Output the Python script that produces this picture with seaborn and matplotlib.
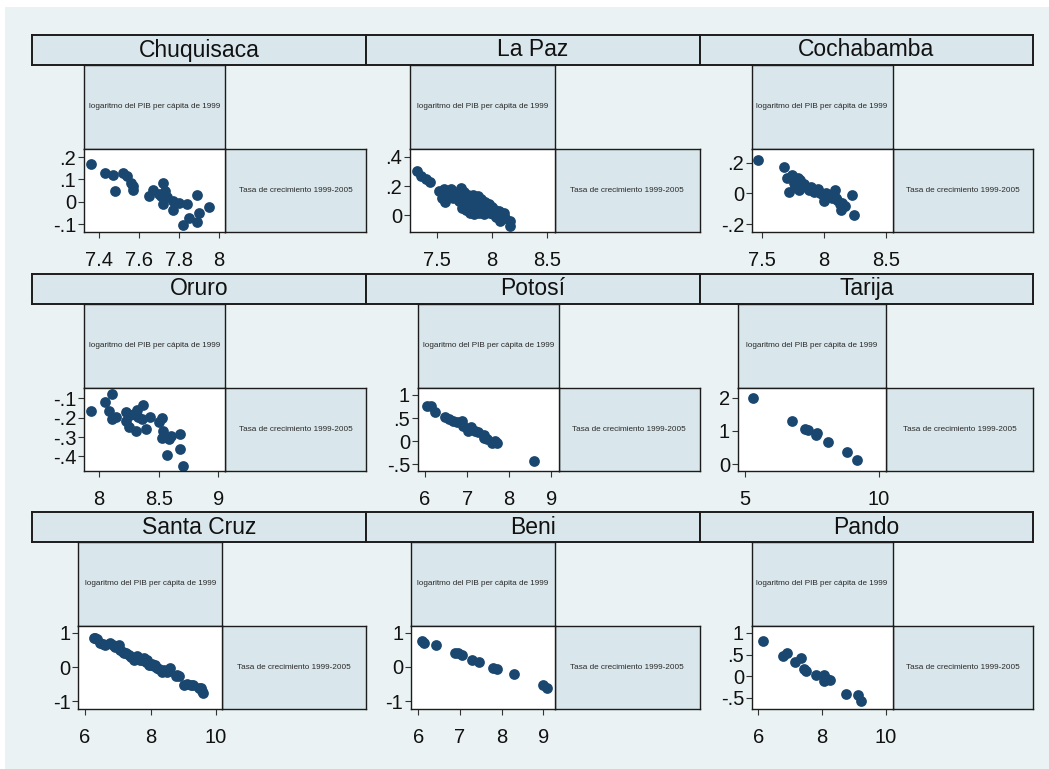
import numpy as np
import pandas as pd
import matplotlib
matplotlib.use("Agg")
import matplotlib.pyplot as plt
from matplotlib.patches import Rectangle
import seaborn as sns

sns.set_theme(style="ticks")
plt.rcParams['font.family'] = ['Liberation Sans', 'DejaVu Sans']

# ---------------------------------------------------------------- data
departamentos = ["Chuquisaca", "La Paz", "Cochabamba",
                 "Oruro", "Potosí", "Tarija",
                 "Santa Cruz", "Beni", "Pando"]

etiqueta_x = "logaritmo del PIB per cápita de 1999"
etiqueta_y = "Tasa de crecimiento 1999-2005"

chuquisaca_lpib = [7.36, 7.43, 7.47, 7.48, 7.52, 7.54, 7.56, 7.57, 7.57, 7.65, 7.67, 7.70, 7.71,
                   7.72, 7.72, 7.73, 7.74, 7.77, 7.77, 7.80, 7.84, 7.82, 7.85, 7.89, 7.89, 7.90, 7.95]
chuquisaca_tasa = [0.17, 0.13, 0.12, 0.05, 0.13, 0.115, 0.085, 0.07, 0.053, 0.025, 0.053, 0.033, 0.025,
                   0.083, -0.009, 0.05, 0.02, 0.003, -0.035, -0.005, -0.008, -0.105, -0.072, 0.03, -0.092, -0.05, -0.023]

lapaz_lpib = [7.32, 7.36, 7.40, 7.44, 7.52, 7.55, 7.57, 7.58, 7.60, 7.62, 7.63, 7.65, 7.66, 7.68,
              7.70, 7.71, 7.72, 7.73, 7.73, 7.74, 7.75, 7.76, 7.77, 7.78, 7.79, 7.80, 7.81, 7.82,
              7.83, 7.84, 7.85, 7.86, 7.87, 7.88, 7.89, 7.90, 7.91, 7.93, 7.94, 7.95, 7.97, 7.98,
              8.00, 8.01, 8.03, 8.04, 8.06, 8.07, 8.09, 8.11, 8.12, 8.16, 8.16]
lapaz_tasa = [0.30, 0.27, 0.25, 0.23, 0.17, 0.12, 0.18, 0.09, 0.16, 0.14, 0.18, 0.12, 0.16, 0.14,
              0.10, 0.15, 0.19, 0.05, 0.13, 0.08, 0.16, 0.11, 0.04, 0.14, 0.09, 0.02, 0.12, 0.06,
              0.14, 0.01, 0.10, 0.04, 0.13, 0.02, 0.08, 0.11, 0.05, 0.01, 0.09, 0.05, 0.08, 0.02,
              0.06, 0.01, 0.04, -0.01, 0.03, -0.04, 0.01, 0.02, -0.02, -0.04, -0.07]

cochabamba_lpib = [7.47, 7.68, 7.70, 7.72, 7.74, 7.76, 7.77, 7.79, 7.80, 7.81, 7.82, 7.84, 7.86, 7.88,
                   7.90, 7.92, 7.93, 7.95, 7.97, 7.99, 8.00, 8.02, 8.03, 8.05, 8.07, 8.09, 8.10, 8.11,
                   8.13, 8.14, 8.15, 8.17, 8.23, 8.24]
cochabamba_tasa = [0.22, 0.17, 0.10, 0.01, 0.12, 0.07, 0.04, 0.10, 0.02, 0.09, 0.05, 0.06, 0.04, 0.02,
                   0.04, 0.01, 0.02, 0.03, 0.00, -0.01, -0.05, 0.00, -0.02, -0.01, -0.03, 0.02, -0.03, -0.04,
                   -0.07, -0.11, -0.06, -0.08, -0.01, -0.14]

oruro_lpib = [7.93, 8.05, 8.11, 8.08, 8.11, 8.14, 8.23, 8.23, 8.26, 8.25, 8.29, 8.31, 8.33, 8.32,
              8.37, 8.39, 8.36, 8.43, 8.53, 8.50, 8.54, 8.53, 8.59, 8.57, 8.60, 8.68, 8.68, 8.70]
oruro_tasa = [-0.165, -0.117, -0.077, -0.165, -0.209, -0.197, -0.171, -0.218, -0.188, -0.25, -0.18, -0.267,
              -0.197, -0.162, -0.136, -0.258, -0.206, -0.197, -0.20, -0.222, -0.267, -0.305, -0.31, -0.394,
              -0.293, -0.286, -0.363, -0.447]

potosi_lpib = [6.04, 6.14, 6.24, 6.48, 6.56, 6.67, 6.75, 6.87, 6.91, 7.03, 7.10, 7.19, 7.27, 7.39,
               7.41, 7.47, 7.59, 7.67, 7.71, 8.60]
potosi_tasa = [0.754, 0.754, 0.63, 0.52, 0.48, 0.446, 0.41, 0.446, 0.337, 0.227, 0.30, 0.227, 0.205, 0.13,
               0.066, 0.044, -0.03, 0.0, -0.044, -0.43]

tarija_lpib = [5.31, 6.75, 7.23, 7.35, 7.65, 7.69, 8.09, 8.81, 9.21]
tarija_tasa = [2.00, 1.31, 1.07, 1.04, 0.88, 0.93, 0.67, 0.36, 0.13]

santacruz_lpib = [6.26, 6.30, 6.36, 6.46, 6.55, 6.62, 6.77, 6.85, 6.92, 7.00, 7.03, 7.08, 7.15, 7.18,
                  7.25, 7.33, 7.40, 7.49, 7.55, 7.59, 7.65, 7.69, 7.75, 7.79, 7.85, 7.90, 7.95, 8.00,
                  8.05, 8.10, 8.15, 8.20, 8.25, 8.36, 8.40, 8.51, 8.55, 8.59, 8.77, 8.80, 8.87, 9.03,
                  9.10, 9.23, 9.30, 9.49, 9.55, 9.56, 9.59]
santacruz_tasa = [0.85, 0.84, 0.82, 0.70, 0.68, 0.65, 0.70, 0.66, 0.60, 0.62, 0.65, 0.51, 0.45, 0.41,
                  0.40, 0.36, 0.30, 0.21, 0.24, 0.31, 0.27, 0.21, 0.20, 0.26, 0.16, 0.21, 0.07, 0.05,
                  0.10, 0.02, 0.07, -0.03, -0.05, -0.13, -0.08, -0.13, -0.10, -0.03, -0.27, -0.22, -0.27, -0.52,
                  -0.50, -0.52, -0.52, -0.61, -0.62, -0.71, -0.76]

beni_lpib = [6.10, 6.14, 6.42, 6.88, 6.96, 7.04, 7.28, 7.46, 7.80, 7.88, 8.30, 9.00, 9.10]
beni_tasa = [0.77, 0.70, 0.65, 0.41, 0.41, 0.36, 0.21, 0.14, -0.03, -0.05, -0.20, -0.52, -0.63]

pando_lpib = [6.13, 6.76, 6.89, 7.14, 7.35, 7.45, 7.50, 7.81, 8.05, 8.05, 8.16, 8.26, 8.77, 9.13, 9.23]
pando_tasa = [0.82, 0.46, 0.54, 0.33, 0.41, 0.17, 0.115, 0.04, 0.023, -0.115, -0.054, -0.09, -0.40, -0.42, -0.58]

series_lpib = [chuquisaca_lpib, lapaz_lpib, cochabamba_lpib, oruro_lpib, potosi_lpib,
               tarija_lpib, santacruz_lpib, beni_lpib, pando_lpib]
series_tasa = [chuquisaca_tasa, lapaz_tasa, cochabamba_tasa, oruro_tasa, potosi_tasa,
               tarija_tasa, santacruz_tasa, beni_tasa, pando_tasa]

# tick values and their labels, per department
xticks = [[7.4, 7.6, 7.8, 8], [7.5, 8, 8.5], [7.5, 8, 8.5],
          [8, 8.5, 9], [6, 7, 8, 9], [5, 10],
          [6, 8, 10], [6, 7, 8, 9], [6, 8, 10]]
xticklabels = [["7.4", "7.6", "7.8", "8"], ["7.5", "8", "8.5"], ["7.5", "8", "8.5"],
               ["8", "8.5", "9"], ["6", "7", "8", "9"], ["5", "10"],
               ["6", "8", "10"], ["6", "7", "8", "9"], ["6", "8", "10"]]
yticks = [[-0.1, 0, 0.1, 0.2], [0, 0.2, 0.4], [-0.2, 0, 0.2],
          [-0.4, -0.3, -0.2, -0.1], [-0.5, 0, 0.5, 1], [0, 1, 2],
          [-1, 0, 1], [-1, 0, 1], [-0.5, 0, 0.5, 1]]
yticklabels = [["-.1", "0", ".1", ".2"], ["0", ".2", ".4"], ["-.2", "0", ".2"],
               ["-.4", "-.3", "-.2", "-.1"], ["-.5", "0", ".5", "1"], ["0", "1", "2"],
               ["-1", "0", "1"], ["-1", "0", "1"], ["-.5", "0", ".5", "1"]]

df = pd.concat([pd.DataFrame({"departamento": d, "lpib": x, "tasa": y})
                for d, x, y in zip(departamentos, series_lpib, series_tasa)],
               ignore_index=True)

# ---------------------------------------------------------------- layout
W, H = 1049, 769
BG = "#EAF2F3"
BOX = "#D9E6EB"
NAVY = "#1A476F"
EDGE = "#1c1c1c"

xlims = [(7.325, 8.03), (7.259, 8.569), (7.419, 8.554),
         (7.874, 9.056), (5.825, 9.175), (4.725, 10.26),
         (5.795, 10.185), (5.824, 9.288), (5.79, 10.22)]
ylims = [(-0.135, 0.238), (-0.113, 0.457), (-0.25, 0.292),
         (-0.475, -0.044), (-0.646, 1.16), (-0.2, 2.305),
         (-1.224, 1.215), (-1.23, 1.21), (-0.754, 1.17)]

col_edges = [(32, 366), (366, 699.5), (699.5, 1033.3)]
row_tops = [35, 274, 512]
title_h = 30
cell_h = 83.5
matrix_left = [84, 410, 751.7, 84, 417.7, 737.7, 78.3, 411, 751.7]


def frac(x0, y0, x1, y1):
    return [x0 / W, 1 - y1 / H, (x1 - x0) / W, (y1 - y0) / H]


def box_axes(fig, rect, face, lw, text=None, size=None, tcolor="#111111"):
    ax = fig.add_axes(frac(*rect))
    ax.set_facecolor(face)
    ax.set_xticks([])
    ax.set_yticks([])
    for s in ax.spines.values():
        s.set_color(EDGE)
        s.set_linewidth(lw)
    if text is not None:
        ax.text(0.5, 0.5, text, ha="center", va="center", fontsize=size,
                color=tcolor, transform=ax.transAxes)
    return ax


fig = plt.figure(figsize=(W / 100, H / 100), dpi=100, facecolor="white")
fig.add_artist(Rectangle((5 / W, 0), 1 - 5 / W, 1 - 7 / H, transform=fig.transFigure,
                         facecolor=BG, edgecolor="none", zorder=-10))

for i, dep in enumerate(departamentos):
    r, c = divmod(i, 3)
    cl, cr = col_edges[c]
    top = row_tops[r]
    # strip with the department name
    box_axes(fig, (cl, top, cr, top + title_h), BOX, 1.4, dep, 16.5)

    ml = matrix_left[i]
    mid = (ml + cr) / 2
    y0 = top + title_h
    y1 = y0 + cell_h
    y2 = y1 + cell_h
    # diagonal cells carrying the variable names
    box_axes(fig, (ml, y0, mid, y1), BOX, 1.0, etiqueta_x, 5.9, "#2a2a2a")
    box_axes(fig, (mid, y1, cr, y2), BOX, 1.0, etiqueta_y, 5.9, "#2a2a2a")

    # scatter cell
    ax = fig.add_axes(frac(ml, y1, mid, y2))
    ax.set_facecolor("white")
    sns.scatterplot(data=df[df["departamento"] == dep], x="lpib", y="tasa", ax=ax,
                    color=NAVY, s=60, linewidth=0, alpha=1, legend=False)
    ax.set_xlim(*xlims[i])
    ax.set_ylim(*ylims[i])
    ax.set_xticks(xticks[i])
    ax.set_xticklabels(xticklabels[i])
    ax.set_yticks(yticks[i])
    ax.set_yticklabels(yticklabels[i])
    ax.set_xlabel("")
    ax.set_ylabel("")
    for s in ax.spines.values():
        s.set_visible(True)
        s.set_color(EDGE)
        s.set_linewidth(1.0)
    ax.tick_params(axis="both", direction="out", length=4.5, width=0.8, color="#333333",
                   labelsize=14.5, labelcolor="#111111", bottom=True, left=True)
    ax.tick_params(axis="x", pad=9.5)
    ax.tick_params(axis="y", pad=1.0)

fig.savefig("out.png", dpi=100, facecolor=fig.get_facecolor())
